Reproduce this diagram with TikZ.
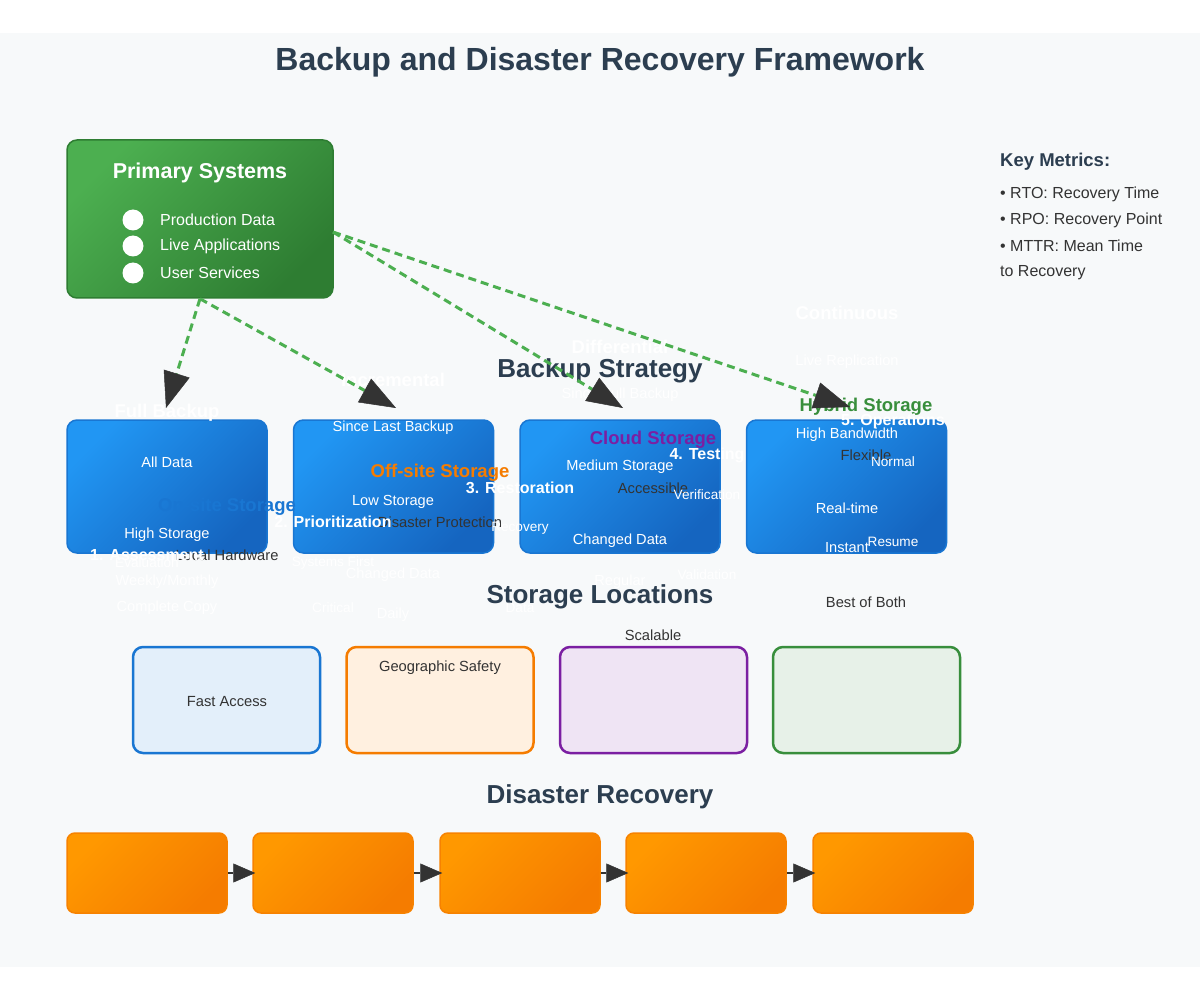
\documentclass[tikz,border=0pt]{standalone}
\usepackage{fontspec}
\setmainfont{Liberation Sans}
\usetikzlibrary{arrows.meta,positioning}
\definecolor{ink}{HTML}{2C3E50}
\definecolor{bodytext}{HTML}{333333}
\definecolor{pagebg}{HTML}{F7F9FA}
\definecolor{primlight}{HTML}{4CAF50}
\definecolor{primdark}{HTML}{2E7D32}
\definecolor{bluelight}{HTML}{2196F3}
\definecolor{bluedark}{HTML}{1565C0}
\definecolor{blueedge}{HTML}{1976D2}
\definecolor{orglight}{HTML}{FF9800}
\definecolor{orgdark}{HTML}{F57C00}
\definecolor{onsite}{HTML}{1976D2}
\definecolor{offsite}{HTML}{F57C00}
\definecolor{cloud}{HTML}{7B1FA2}
\definecolor{hybrid}{HTML}{388E3C}
\definecolor{flowgreen}{HTML}{4CAF50}
\definecolor{tipdark}{HTML}{333333}
\newcommand{\pxfont}[1]{\fontsize{#1}{#1}\selectfont}
\tikzset{
  flow/.style={-{Triangle[length=36pt,width=27pt,line width=0.5pt,color=tipdark,fill=tipdark]},
    flowgreen,line width=3pt,dash pattern=on 8pt off 5pt},
  seq/.style={-{Triangle[length=22pt,width=19pt,line width=0.5pt,color=tipdark,fill=tipdark]},tipdark,line width=2pt},
  primbox/.style={draw=primdark,line width=1.5pt,rounded corners=10pt,minimum width=266pt,minimum height=158pt,
    top color=primlight,bottom color=primdark,shading angle=45},
  stratbox/.style={draw=blueedge,line width=1.5pt,rounded corners=10pt,minimum width=200pt,minimum height=133pt,
    top color=bluelight,bottom color=bluedark,shading angle=45},
  storebox/.style={line width=2.5pt,rounded corners=10pt,minimum width=187pt,minimum height=106pt},
  drbox/.style={draw=orgdark!80!orglight,line width=1.5pt,rounded corners=8pt,minimum width=160pt,minimum height=80pt,
    top color=orglight,bottom color=orgdark,shading angle=45},
  heading/.style={font=\pxfont{26}\bfseries,text=ink},
  boxtitle/.style={font=\pxfont{18.5}\bfseries,text=white},
  boxline/.style={font=\pxfont{14.6},text=white},
  storetitle/.style={font=\pxfont{18.5}\bfseries},
  storeline/.style={font=\pxfont{14.7},text=bodytext},
  steptitle/.style={font=\pxfont{16}\bfseries,text=white},
  stepline/.style={font=\pxfont{13.6},text=white},
  metric/.style={font=\pxfont{16},text=bodytext,anchor=west}
}

\begin{document}
\begin{tikzpicture}[x=1pt,y=-1pt,inner sep=0pt]
\useasboundingbox (0,0) rectangle (1200,1000);
\fill[white] (0,0) rectangle (1200,1000);
\fill[pagebg] (0,33) rectangle (1200,967);

\node[font=\pxfont{32}\bfseries,text=ink] (title) at (600,62) {Backup and Disaster Recovery Framework};

% primary systems
\node[primbox] (prim) at (200,219) {};
\node[boxtitle,font=\pxfont{21.5}\bfseries] (primtitle) at (200,173) {Primary Systems};
\foreach \y/\txt [count=\i] in {220/Production Data,246/Live Applications,273/User Services}{
  \fill[white] (133,\y) circle (10.5);
  \node[anchor=west,font=\pxfont{16},text=white] (prim\i) at (160,\y) {\txt};
}

% key metrics
\node[anchor=west,font=\pxfont{18.5}\bfseries,text=ink] (keyhead) at (1000,162) {Key Metrics:};
\node[metric] (rto) at (1000,194) {• RTO: Recovery Time};
\node[metric] (rpo) at (1000,220) {• RPO: Recovery Point};
\node[metric] (mttr) at (1000,246) {• MTTR: Mean Time};
\node[metric] (mttr2) at (1000,273) {to Recovery};

% section headings
\node[heading] (strathead) at (600,371) {Backup Strategy};
\node[heading] (storehead) at (600,597) {Storage Locations};
\node[heading] (drhead) at (600,797) {Disaster Recovery};

% backup strategy
\node[stratbox] (full) at (167,486.5) {};
\node[stratbox] (incr) at (393.5,486.5) {};
\node[stratbox] (diff) at (620,486.5) {};
\node[stratbox] (cont) at (846.5,486.5) {};

% storage locations
\node[storebox,draw=onsite,fill=onsite!12] (onsitebox) at (226.5,700) {};
\node[storebox,draw=offsite,fill=orange!12] (offsitebox) at (440,700) {};
\node[storebox,draw=cloud,fill=cloud!12] (cloudbox) at (653.5,700) {};
\node[storebox,draw=hybrid,fill=hybrid!12] (hybridbox) at (866.5,700) {};

% recovery steps
\foreach \x [count=\i] in {147,333,520,706,893}
  \node[drbox] (step\i) at (\x,873) {};
\foreach \a/\b in {1/2,2/3,3/4,4/5}
  \draw[seq] (step\a.east) -- ([xshift=3pt]step\b.west);

% strategy texts
\node[boxtitle] (fullt) at (167,413) {Full Backup};
\node[boxtitle] (incrt) at (393,380) {Incremental};
\node[boxtitle] (difft) at (620,347) {Differential};
\node[boxtitle] (contt) at (847,313) {Continuous};
\node[boxline] (fulla) at (167,462) {All Data};
\node[boxline] (incra) at (393,428) {Since Last Backup};
\node[boxline] (diffa) at (620,395) {Since Full Backup};
\node[boxline] (conta) at (847,362) {Live Replication};
\node[boxline] (fullb) at (167,535) {High Storage};
\node[boxline] (incrb) at (393,502) {Low Storage};
\node[boxline] (diffb) at (620,467) {Medium Storage};
\node[boxline] (contb) at (847,435) {High Bandwidth};
\node[boxline] (fullc) at (167,608) {Complete Copy};
\node[boxline] (incrc) at (393,575) {Changed Data};
\node[boxline] (diffc) at (620,541) {Changed Data};
\node[boxline] (contc) at (847,508) {Real-time};
\node[boxline] (fulld) at (167,582) {Weekly/Monthly};
\node[boxline] (incrd) at (393,615) {Daily};
\node[boxline] (diffd) at (620,582) {Regular};
\node[boxline] (contd) at (847,548) {Instant};

% storage texts
\node[storetitle,text=onsite] (onsitet) at (227,507) {On-site Storage};
\node[storetitle,text=offsite] (offsitet) at (440,473) {Off-site Storage};
\node[storetitle,text=cloud] (cloudt) at (653,440) {Cloud Storage};
\node[storetitle,text=hybrid] (hybridt) at (866,407) {Hybrid Storage};
\node[storeline] (onsitea) at (227,555) {Local Hardware};
\node[storeline] (offsitea) at (440,522) {Disaster Protection};
\node[storeline] (clouda) at (653,488) {Accessible};
\node[storeline] (hybrida) at (866,455) {Flexible};
\node[storeline] (onsiteb) at (227,702) {Fast Access};
\node[storeline] (offsiteb) at (440,668) {Geographic Safety};
\node[storeline] (cloudb) at (653,635) {Scalable};
\node[storeline] (hybridb) at (866,602) {Best of Both};

% step texts
\node[steptitle] (step1t) at (147,555) {1. Assessment};
\node[steptitle] (step2t) at (333,522) {2. Prioritization};
\node[steptitle] (step3t) at (520,488) {3. Restoration};
\node[steptitle] (step4t) at (707,455) {4. Testing};
\node[steptitle] (step5t) at (893,421) {5. Operations};
\node[stepline] (step1a) at (147,563) {Evaluation};
\node[stepline] (step2a) at (333,563) {Systems First};
\node[stepline] (step3a) at (520,528) {Recovery};
\node[stepline] (step4a) at (707,495) {Verification};
\node[stepline] (step5a) at (893,462) {Normal};
\node[stepline] (step2b) at (333,608) {Critical};
\node[stepline] (step3b) at (520,608) {Data};
\node[stepline] (step4b) at (707,575) {Validation};
\node[stepline] (step5b) at (893,542) {Resume};

% flows from primary systems
\coordinate (primout) at (333,232);
\coordinate (fullin) at (166,408);
\coordinate (incrin) at (396,408);
\coordinate (diffin) at (623,408);
\coordinate (contin) at (850,407);
\draw[flow] (prim.south) -- (fullin);
\draw[flow] (prim.south) -- (incrin);
\draw[flow] (primout) -- (diffin);
\draw[flow] (primout) -- (contin);
\end{tikzpicture}
\end{document}
